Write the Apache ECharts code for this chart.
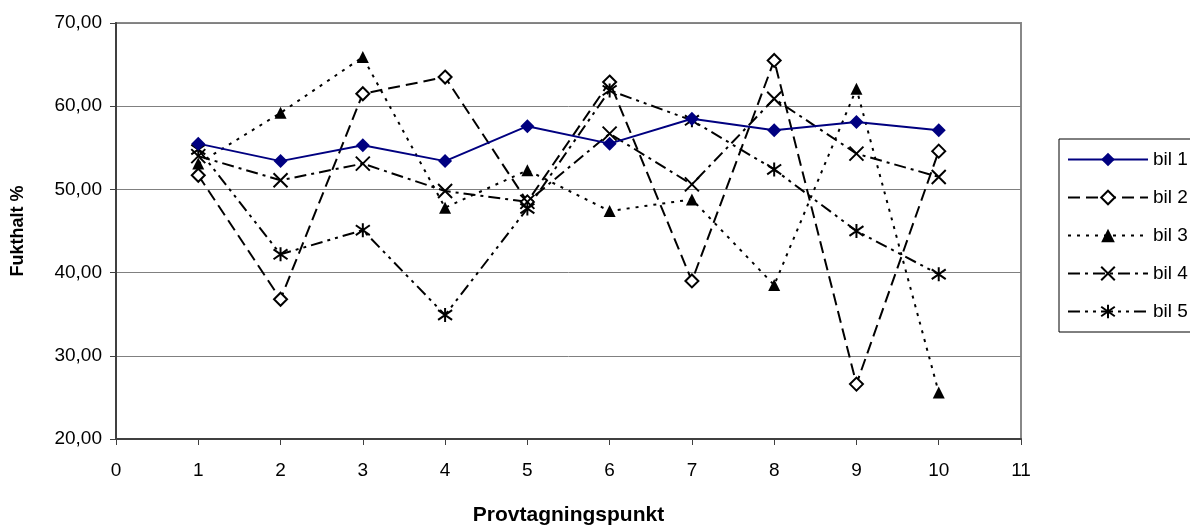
<!DOCTYPE html>
<html>
<head>
<meta charset="utf-8">
<script src="https://cdn.jsdelivr.net/npm/echarts@6/dist/echarts.min.js"></script>
<style>
html,body{margin:0;padding:0;background:#fff;}
#c{width:1190px;height:531px;}
</style>
</head>
<body>
<div id="c"></div>
<script>
var points = [1, 2, 3, 4, 5, 6, 7, 8, 9, 10];
var seriesNames = ['bil 1', 'bil 2', 'bil 3', 'bil 4', 'bil 5'];
var bil1 = [55.5, 53.4, 55.3, 53.4, 57.6, 55.5, 58.5, 57.1, 58.1, 57.1];
var bil2 = [51.7, 36.8, 61.5, 63.5, 48.5, 62.9, 39.0, 65.5, 26.6, 54.6];
var bil3 = [53.1, 59.2, 65.9, 47.8, 52.3, 47.4, 48.8, 38.5, 62.1, 25.6];
var bil4 = [54.0, 51.1, 53.1, 49.8, 48.5, 56.7, 50.6, 60.9, 54.3, 51.5];
var bil5 = [54.8, 42.2, 45.1, 34.9, 47.7, 61.9, 58.3, 52.4, 45.0, 39.8];
var xTitle = 'Provtagningspunkt';
var yTitle = 'Fukthalt %';

function pairs(arr){ return points.map(function(p,i){ return [p, arr[i]]; }); }

var FONT = '"Liberation Sans", Arial, sans-serif';
var xSym = 'path://M0,0L10,10M10,0L0,10';
var starSym = 'path://M5,0L5,10M0.5,1.5L9.5,8.5M0.5,8.5L9.5,1.5';

var chart = echarts.init(document.getElementById('c'), null, {renderer:'canvas'});
chart.setOption({
  animation: false,
  backgroundColor: '#ffffff',
  textStyle: {fontFamily: FONT},
  grid: {left: 116, right: 169, top: 23, bottom: 85, show: true, borderColor: '#888888', borderWidth: 2, backgroundColor: 'transparent'},
  legend: {
    orient: 'vertical', left: 1059, top: 139,
    itemWidth: 80, itemHeight: 17, itemGap: 19,
    padding: [11, 80, 11, 8],
    borderColor: '#000', borderWidth: 1,
    textStyle: {fontSize: 19, color: '#000', fontFamily: FONT},
    data: seriesNames
  },
  xAxis: {
    type: 'value', min: 0, max: 11, interval: 1,
    name: xTitle, nameLocation: 'middle', nameGap: 66,
    nameTextStyle: {fontSize: 21, fontWeight: 'bold', color: '#000', fontFamily: FONT},
    axisLine: {show: true, lineStyle: {color: '#404040', width: 2}},
    axisTick: {show: true, inside: false, length: 6, lineStyle: {color: '#404040', width: 1}},
    axisLabel: {fontSize: 19, color: '#000', margin: 22, fontFamily: FONT},
    splitLine: {show: false}
  },
  yAxis: {
    type: 'value', min: 20, max: 70, interval: 10,
    name: yTitle, nameLocation: 'middle', nameGap: 89, nameRotate: 90,
    nameTextStyle: {fontSize: 18, fontWeight: 'bold', color: '#000', fontFamily: FONT},
    axisLine: {show: true, lineStyle: {color: '#404040', width: 2}},
    axisTick: {show: true, inside: false, length: 6, lineStyle: {color: '#404040', width: 1}},
    axisLabel: {fontSize: 19, color: '#000', margin: 14, fontFamily: FONT,
      formatter: function(v){ return v.toFixed(2).replace('.', ','); }},
    splitLine: {show: true, lineStyle: {color: '#808080', width: 1}}
  },
  series: [
    {name: 'bil 2', type: 'line', data: pairs(bil2), symbol: 'diamond', symbolSize: 13,
     lineStyle: {color: '#000', width: 2, type: [12, 6]},
     itemStyle: {color: '#fff', borderColor: '#000', borderWidth: 2}, z: 3},
    {name: 'bil 3', type: 'line', data: pairs(bil3), symbol: 'triangle', symbolSize: 12,
     lineStyle: {color: '#000', width: 2, type: [3, 6]},
     itemStyle: {color: '#000', borderColor: '#000', borderWidth: 0}, z: 3},
    {name: 'bil 4', type: 'line', data: pairs(bil4), symbol: xSym, symbolSize: 14,
     lineStyle: {color: '#000', width: 2, type: [12, 5, 3, 5]},
     itemStyle: {color: 'transparent', borderColor: '#000', borderWidth: 2}, z: 3},
    {name: 'bil 5', type: 'line', data: pairs(bil5), symbol: starSym, symbolSize: 14,
     lineStyle: {color: '#000', width: 2, type: [12, 5, 3, 5, 3, 5]},
     itemStyle: {color: 'transparent', borderColor: '#000', borderWidth: 2}, z: 3},
    {name: 'bil 1', type: 'line', data: pairs(bil1), symbol: 'diamond', symbolSize: 14,
     lineStyle: {color: '#000080', width: 2, type: 'solid'},
     itemStyle: {color: '#000080', borderColor: '#000080', borderWidth: 0}, z: 4}
  ]
});
</script>
</body>
</html>
